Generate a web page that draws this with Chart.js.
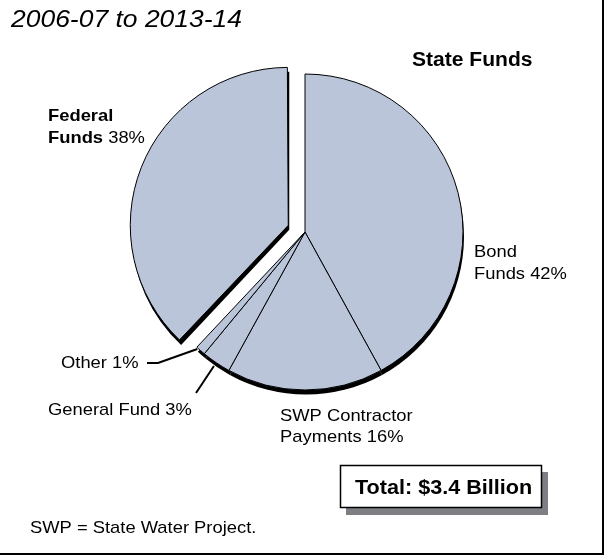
<!DOCTYPE html>
<html>
<head>
<meta charset="utf-8">
<script src="https://cdn.jsdelivr.net/npm/chart.js@4/dist/chart.umd.min.js"></script>
<style>
  html, body { margin: 0; padding: 0; background: #fff; }
  #wrap { width: 605px; height: 556px; position: relative; }
  canvas { display: block; }
</style>
</head>
<body>
<div id="wrap"><canvas id="c" width="605" height="556"></canvas></div>
<script>
// Funding sources, 2006-07 to 2013-14 (percent of total)
const categories = ['Bond Funds', 'SWP Contractor Payments', 'General Fund', 'Other', 'Federal Funds'];
const shares = [42, 16, 3, 1, 38];
const titleText = '2006-07 to 2013-14';
const groupLabel = 'State Funds';
const totalText = 'Total: $3.4 Billion';
const noteText = 'SWP = State Water Project.';

const FONT = '"Liberation Sans", Arial, Helvetica, sans-serif';
const XS = 1.08;              // slight horizontal widening of the lettering
const SLICE_FILL = '#bac5da';
const federalIndex = categories.indexOf('Federal Funds');
const otherIndex = categories.indexOf('Other');
const generalIndex = categories.indexOf('General Fund');

function drawText(ctx, s, x, y, font) {
  ctx.save();
  ctx.font = font;
  ctx.translate(x, y);
  ctx.scale(XS, 1);
  ctx.fillText(s, 0, 0);
  const w = ctx.measureText(s).width * XS;
  ctx.restore();
  return w;
}

function radiusGrowth(arc) {
  const off = (arc.options.offset || 0) / 4;
  return off * (1 - Math.sin(Math.min(Math.PI, arc.circumference || 0)));
}

// geometry of an arc as it is actually painted (including its offset)
function arcShape(arc) {
  const p = arc.getProps(['x', 'y', 'startAngle', 'endAngle', 'outerRadius', 'circumference'], true);
  const off = (arc.options.offset || 0) / 4;
  const mid = (p.startAngle + p.endAngle) / 2;
  return {
    cx: p.x + Math.cos(mid) * off,
    cy: p.y + Math.sin(mid) * off,
    r: p.outerRadius + radiusGrowth(arc),
    start: p.startAngle,
    end: p.endAngle
  };
}

// keep the pulled-out slice at the same radius as the rest of the pie
const keepRadius = {
  id: 'keepRadius',
  afterDatasetUpdate(chart, args) {
    args.meta.data.forEach(arc => {
      const g = radiusGrowth(arc);
      if (g) arc.outerRadius -= g;
    });
  }
};

// dark drop edge under the pie
const pieShadow = {
  id: 'pieShadow',
  beforeDatasetsDraw(chart) {
    const ctx = chart.ctx;
    const meta = chart.getDatasetMeta(0);
    ctx.save();
    ctx.fillStyle = '#000';
    meta.data.forEach(arc => {
      const s = arcShape(arc);
      const cx = s.cx + 1, cy = s.cy + 4.5;
      ctx.beginPath();
      ctx.moveTo(cx, cy);
      ctx.arc(cx, cy, s.r, s.start, s.end);
      ctx.closePath();
      ctx.fill();
    });
    ctx.restore();
  }
};

const annotations = {
  id: 'annotations',
  afterDraw(chart) {
    const ctx = chart.ctx;
    const meta = chart.getDatasetMeta(0);
    ctx.save();
    ctx.fillStyle = '#000';
    ctx.textBaseline = 'alphabetic';

    // heading
    drawText(ctx, titleText, 11, 27, 'italic 24.5px ' + FONT);
    drawText(ctx, groupLabel, 412, 66, 'bold 19.5px ' + FONT);

    // slice labels
    drawText(ctx, 'Federal', 48, 121, 'bold 17px ' + FONT);
    const wF = drawText(ctx, 'Funds', 48, 143, 'bold 17px ' + FONT);
    drawText(ctx, ' ' + shares[federalIndex] + '%', 48 + wF, 143, '17px ' + FONT);

    drawText(ctx, 'Bond', 474, 257, '17px ' + FONT);
    drawText(ctx, 'Funds ' + shares[0] + '%', 474, 279, '17px ' + FONT);

    drawText(ctx, 'SWP Contractor', 280, 421, '17px ' + FONT);
    drawText(ctx, 'Payments ' + shares[1] + '%', 280, 442, '17px ' + FONT);

    drawText(ctx, 'Other ' + shares[otherIndex] + '%', 61, 368, '17px ' + FONT);
    drawText(ctx, 'General Fund ' + shares[generalIndex] + '%', 48, 415, '17px ' + FONT);

    // leader lines
    ctx.strokeStyle = '#000';
    ctx.lineWidth = 2;
    const o = arcShape(meta.data[otherIndex]);
    const oa = o.end - 0.01;
    ctx.beginPath();
    ctx.moveTo(147, 363);
    ctx.lineTo(158, 363);
    ctx.lineTo(o.cx + Math.cos(oa) * (o.r + 1), o.cy + Math.sin(oa) * (o.r + 1));
    ctx.stroke();

    const g = arcShape(meta.data[generalIndex]);
    const ga = (g.start + g.end) / 2;
    ctx.beginPath();
    ctx.moveTo(196, 393);
    ctx.lineTo(g.cx + Math.cos(ga) * (g.r + 4), g.cy + Math.sin(ga) * (g.r + 4));
    ctx.stroke();

    // total box with drop shadow
    ctx.fillStyle = '#7e7f84';
    ctx.fillRect(346, 472, 202, 43);
    ctx.fillStyle = '#fff';
    ctx.fillRect(340, 465, 202, 43);
    ctx.strokeStyle = '#000';
    ctx.lineWidth = 1.5;
    ctx.strokeRect(340.5, 465.5, 201, 42);
    ctx.fillStyle = '#000';
    drawText(ctx, totalText, 355, 494, 'bold 20px ' + FONT);

    // footnote
    drawText(ctx, noteText, 30, 533, '17px ' + FONT);

    // frame (right and bottom rules)
    ctx.fillRect(602, 0, 2, 555);
    ctx.fillRect(0, 553, 604, 2);
    ctx.restore();
  }
};

new Chart(document.getElementById('c'), {
  type: 'pie',
  data: {
    labels: categories,
    datasets: [{
      data: shares,
      backgroundColor: SLICE_FILL,
      borderColor: '#000',
      borderWidth: 1,
      radius: 158,
      offset: (c) => (c.dataIndex === federalIndex ? 72 : 0)
    }]
  },
  options: {
    responsive: false,
    animation: false,
    layout: { padding: { left: 60, right: 55, top: 60, bottom: 152 } },
    plugins: {
      legend: { display: false },
      tooltip: { enabled: false }
    }
  },
  plugins: [keepRadius, pieShadow, annotations]
});
</script>
</body>
</html>
